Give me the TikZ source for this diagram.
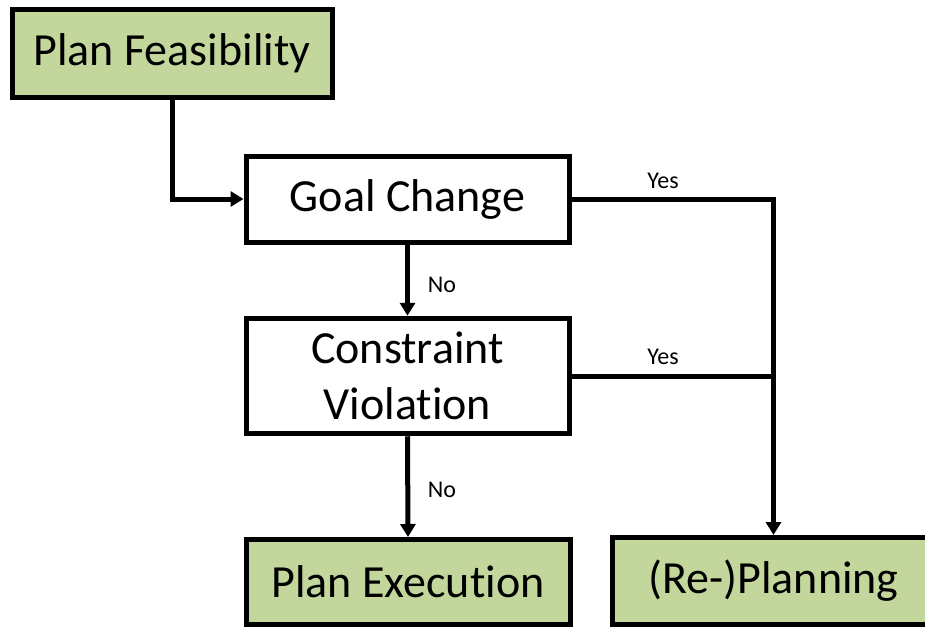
\documentclass[tikz,border=0pt]{standalone}
\usepackage{fontspec}
\setmainfont{Carlito}[Ligatures={NoCommon}]
\usetikzlibrary{arrows.meta}
\definecolor{boxgreen}{HTML}{C3D69B}
\tikzset{
  flowbox/.style={draw=black, line width=5pt, fill=white, inner sep=0pt,
    align=center, font=\fontsize{46}{56}\selectfont},
  endbox/.style={flowbox, fill=boxgreen},
  conn/.style={line width=5pt, draw=black},
  arr/.style={conn, -{Triangle[length=13pt,width=15pt]}},
  lbl/.style={font=\fontsize{24}{28}\selectfont, inner sep=0pt}
}
\begin{document}
\begin{tikzpicture}[x=1pt, y=-1pt]
  \useasboundingbox (0,0) rectangle (925,626);
  \clip (0,0) rectangle (925,626);

  % boxes
  \node[endbox, minimum width=320pt, minimum height=87pt] (pf) at (172,53.5) {Plan Feasibility};
  \node[flowbox, minimum width=323pt, minimum height=86pt] (gc) at (407.5,199) {Goal Change};
  \node[flowbox, minimum width=323pt, minimum height=115.5pt] (cv) at (407.5,376) {Constraint\\Violation};
  \node[endbox, minimum width=324pt, minimum height=85pt] (pe) at (408,582) {Plan Execution};
  \node[endbox, minimum width=322pt, minimum height=87pt] (rp) at (773.5,581) {(Re-)Planning};

  % connectors
  \draw[arr] (pf.south) |- (gc.west);
  \draw[arr] (gc.south) -- (cv.north);
  \draw[arr] (cv.south) -- (pe.north);
  \draw[arr] (gc.east) -| (rp.north);
  \draw[conn] (cv.east) -- (cv.east -| rp.north);

  % branch labels
  \node[lbl] (yes1) at (663,181) {Yes};
  \node[lbl] (yes2) at (663,357) {Yes};
  \node[lbl] (no1) at (442,285) {No};
  \node[lbl] (no2) at (442,490) {No};
\end{tikzpicture}
\end{document}
